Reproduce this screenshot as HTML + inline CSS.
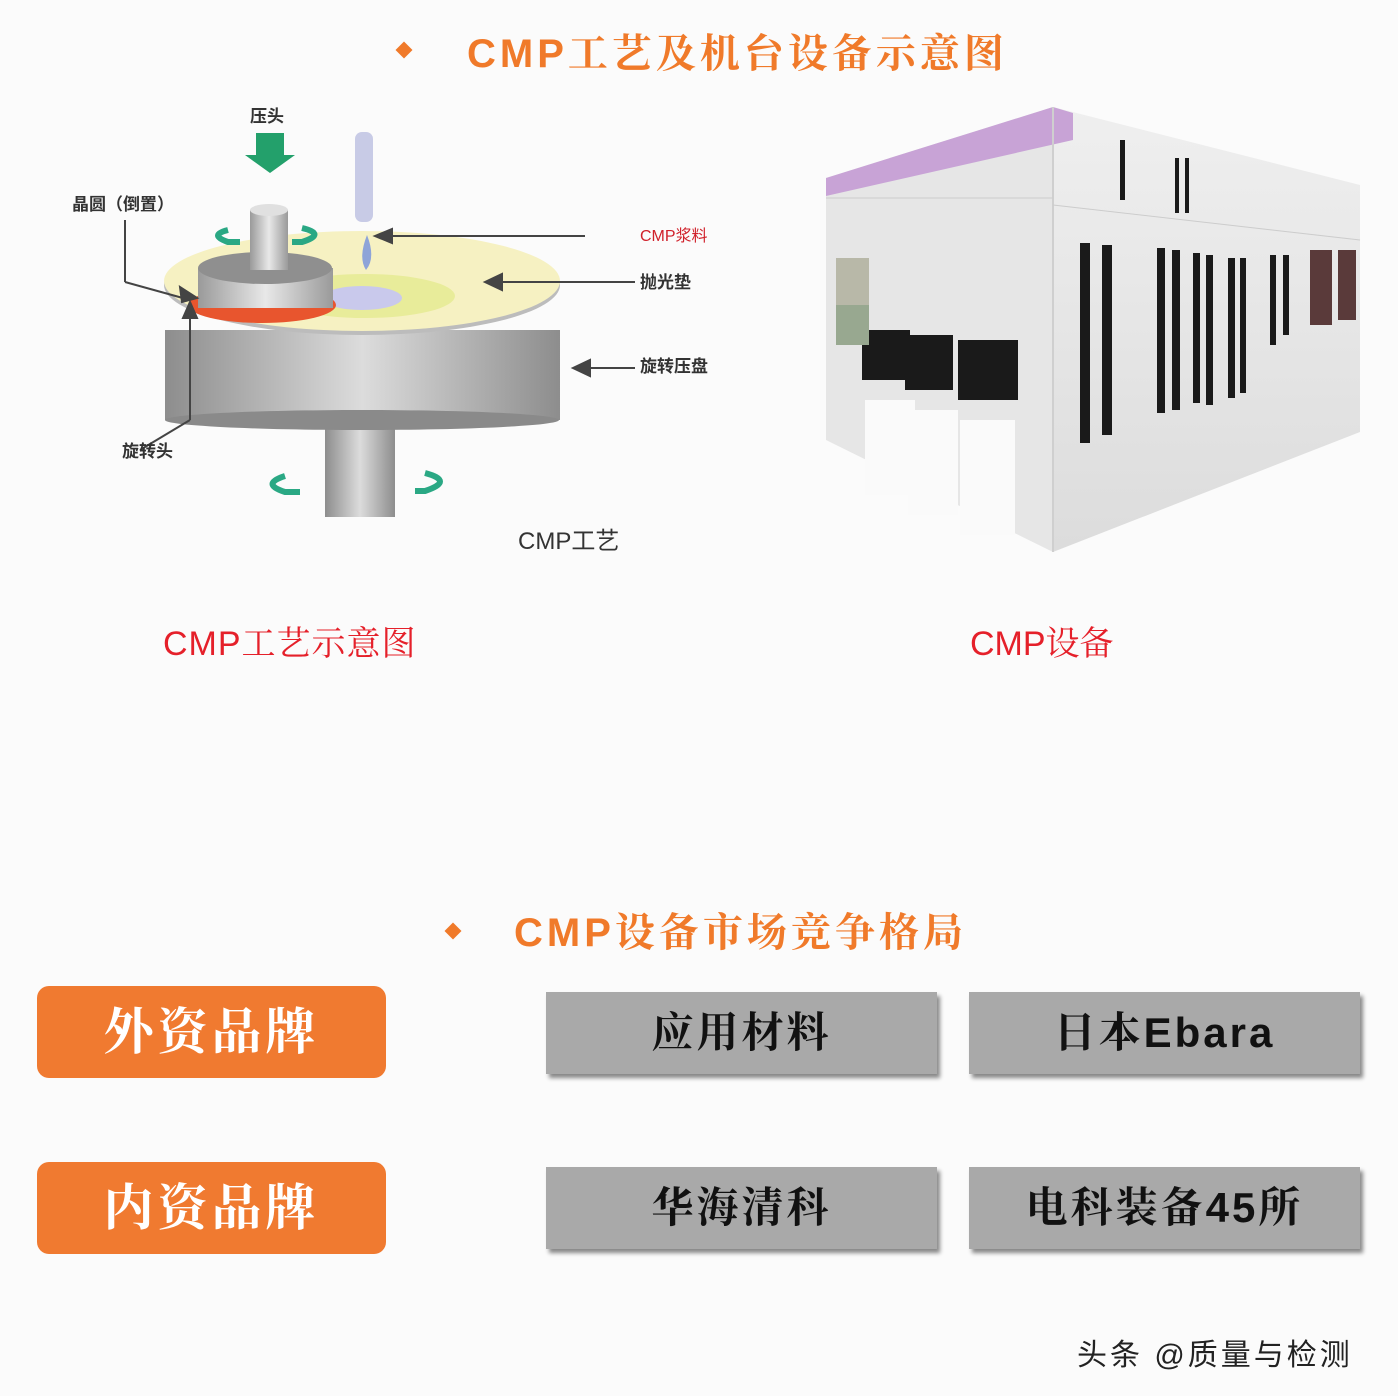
<!DOCTYPE html>
<html><head><meta charset="utf-8"><style>
html,body{margin:0;padding:0;background:#fbfbfb;}
body{width:1398px;height:1396px;position:relative;overflow:hidden;font-family:"Liberation Sans","Noto Sans CJK SC",sans-serif;}
.t{position:absolute;white-space:nowrap;}
.ttl{color:#f07a2a;font-size:40px;font-weight:bold;font-family:"Liberation Sans","Noto Serif CJK SC",serif;}
.dia{position:absolute;width:12px;height:12px;background:#f07a2a;transform:rotate(45deg);}
.red{color:#e5202a;font-size:34px;font-family:"Liberation Sans","Noto Serif CJK SC",serif;}
.ob{position:absolute;background:#f07a30;border-radius:12px;color:#fff;font-size:50px;font-weight:bold;text-align:center;font-family:"Liberation Sans","Noto Serif CJK SC",serif;letter-spacing:4px;}
.gb{position:absolute;background:#a9a9a9;color:#111;font-size:42px;font-weight:bold;text-align:center;box-shadow:3px 4px 4px #888;font-family:"Liberation Sans","Noto Serif CJK SC",serif;letter-spacing:3px;}
</style></head><body>
<div class="dia" style="left:398px;top:44px"></div>
<div class="t ttl" style="left:467px;top:22px;letter-spacing:4px">CMP工艺及机台设备示意图</div>

<svg style="position:absolute;left:0;top:0" width="1398" height="600">
<defs>
<linearGradient id="g1" x1="0" x2="1"><stop offset="0" stop-color="#8d8d8d"/><stop offset=".5" stop-color="#dcdcdc"/><stop offset="1" stop-color="#8d8d8d"/></linearGradient>
<linearGradient id="g2" x1="0" x2="1"><stop offset="0" stop-color="#9a9a9a"/><stop offset=".5" stop-color="#e8e8e8"/><stop offset="1" stop-color="#9a9a9a"/></linearGradient>
<linearGradient id="g3" x1="0" y1="0" x2="0" y2="1"><stop offset="0" stop-color="#efefef"/><stop offset="1" stop-color="#dcdcdc"/></linearGradient>
</defs>
<rect x="325" y="410" width="70" height="107" fill="url(#g1)"/>
<rect x="165" y="330" width="395" height="90" fill="url(#g1)"/>
<ellipse cx="362" cy="420" rx="197" ry="10" fill="#8a8a8a"/>
<ellipse cx="362" cy="285" rx="198" ry="50" fill="#bcbcbc"/>
<ellipse cx="362" cy="281" rx="198" ry="50" fill="#f6f1c2"/>
<ellipse cx="365" cy="296" rx="90" ry="22" fill="#e8ec9a"/>
<ellipse cx="362" cy="298" rx="40" ry="12" fill="#c9c9ec"/>
<ellipse cx="262" cy="305" rx="74" ry="18" fill="#e8552e"/>
<rect x="198" y="268" width="135" height="40" fill="url(#g2)"/>
<ellipse cx="265" cy="268" rx="67" ry="16" fill="#8f8f8f"/>
<rect x="250" y="210" width="38" height="60" fill="url(#g2)"/>
<ellipse cx="269" cy="210" rx="19" ry="6" fill="#e0e0e0"/>
<rect x="355" y="132" width="18" height="90" rx="7" fill="#c8cbe6"/>
<path d="M367 235 Q358 258 366 270 Q376 258 367 235Z" fill="#8ea4d8"/>
<path d="M256 133 h28 v22 h11 l-25 18 l-25 -18 h11z" fill="#23a06b"/>
<g fill="none" stroke="#2aa884" stroke-width="6">
<path d="M228 230 q-20 5 0 12 h12"/><path d="M302 228 q25 6 0 14 h-10"/>
<path d="M285 476 q-25 8 0 16 h15"/><path d="M425 473 q30 8 0 18 h-10"/>
</g>
<g stroke="#444" stroke-width="2" fill="#444">
<line x1="125" y1="220" x2="125" y2="282"/><line x1="125" y1="282" x2="190" y2="300"/>
<line x1="585" y1="236" x2="385" y2="236"/><polygon points="375,236 392,229 392,243"/>
<line x1="635" y1="282" x2="498" y2="282"/><polygon points="485,282 502,274 502,290"/>
<line x1="635" y1="368" x2="590" y2="368"/><polygon points="573,368 590,360 590,376"/>
<line x1="140" y1="450" x2="190" y2="420"/><line x1="190" y1="420" x2="190" y2="310"/><polygon points="190,302 183,318 197,318"/>
<polygon points="197,298 180,287 182,302"/>
</g>
<text x="250" y="122" font-size="17" font-weight="bold" fill="#333" font-family="Liberation Sans,Noto Sans CJK SC,sans-serif">压头</text>
<text x="72" y="210" font-size="17" font-weight="bold" fill="#333" font-family="Liberation Sans,Noto Sans CJK SC,sans-serif">晶圆（倒置）</text>
<text x="640" y="241" font-size="16" fill="#d0202a" font-family="Liberation Sans,Noto Sans CJK SC,sans-serif">CMP浆料</text>
<text x="640" y="288" font-size="17" font-weight="bold" fill="#333" font-family="Liberation Sans,Noto Sans CJK SC,sans-serif">抛光垫</text>
<text x="640" y="372" font-size="17" font-weight="bold" fill="#333" font-family="Liberation Sans,Noto Sans CJK SC,sans-serif">旋转压盘</text>
<text x="122" y="457" font-size="17" font-weight="bold" fill="#333" font-family="Liberation Sans,Noto Sans CJK SC,sans-serif">旋转头</text>
<text x="518" y="549" font-size="24" fill="#333" font-family="Liberation Sans,Noto Sans CJK SC,sans-serif">CMP工艺</text>

<polygon points="1053,107 1360,185 1360,432 1053,552" fill="url(#g3)"/>
<polygon points="826,178 1053,107 1053,552 826,440" fill="#e6e6e6"/>
<polygon points="826,178 1053,107 1073,113 1073,140 826,196" fill="#c8a3d6"/>
<line x1="1053" y1="107" x2="1053" y2="552" stroke="#cfcfcf" stroke-width="2"/>
<line x1="826" y1="198" x2="1053" y2="198" stroke="#ccc"/>
<line x1="1053" y1="205" x2="1360" y2="240" stroke="#ccc"/>
<g fill="#1a1a1a">
<rect x="1080" y="243" width="10" height="200"/><rect x="1102" y="245" width="10" height="190"/>
<rect x="1157" y="248" width="8" height="165"/><rect x="1172" y="250" width="8" height="160"/>
<rect x="1193" y="253" width="7" height="150"/><rect x="1206" y="255" width="7" height="150"/>
<rect x="1228" y="258" width="7" height="140"/><rect x="1240" y="258" width="6" height="135"/>
<rect x="1270" y="255" width="6" height="90"/><rect x="1283" y="255" width="6" height="80"/>
<rect x="1310" y="250" width="22" height="75" fill="#5a3a3a"/>
<rect x="1338" y="250" width="18" height="70" fill="#5a3a3a"/>
<rect x="1120" y="140" width="5" height="60"/><rect x="1175" y="158" width="4" height="55"/><rect x="1185" y="158" width="4" height="55"/>
<rect x="862" y="330" width="48" height="50"/><rect x="905" y="335" width="48" height="55"/><rect x="958" y="340" width="60" height="60"/>
</g>
<rect x="836" y="258" width="33" height="50" fill="#b8b8a8"/>
<rect x="836" y="305" width="33" height="40" fill="#98a890"/>
<rect x="865" y="400" width="50" height="95" fill="#fafafa"/><rect x="908" y="410" width="50" height="105" fill="#fafafa"/><rect x="960" y="420" width="55" height="115" fill="#fafafa"/>
</svg>

<div class="t red" style="left:163px;top:616px;letter-spacing:1px">CMP工艺示意图</div>
<div class="t red" style="left:970px;top:616px">CMP设备</div>

<div class="dia" style="left:447px;top:925px"></div>
<div class="t ttl" style="left:514px;top:901px;letter-spacing:4px">CMP设备市场竞争格局</div>

<div class="ob" style="left:37px;top:986px;width:349px;height:92px;line-height:92px">外资品牌</div>
<div class="ob" style="left:37px;top:1162px;width:349px;height:92px;line-height:92px">内资品牌</div>
<div class="gb" style="left:546px;top:992px;width:391px;height:82px;line-height:82px">应用材料</div>
<div class="gb" style="left:969px;top:992px;width:391px;height:82px;line-height:82px">日本Ebara</div>
<div class="gb" style="left:546px;top:1167px;width:391px;height:82px;line-height:82px">华海清科</div>
<div class="gb" style="left:969px;top:1167px;width:391px;height:82px;line-height:82px">电科装备45所</div>

<div class="t" style="left:1077px;top:1330px;font-size:30px;color:#222;letter-spacing:3px">头条 @质量与检测</div>
</body></html>
